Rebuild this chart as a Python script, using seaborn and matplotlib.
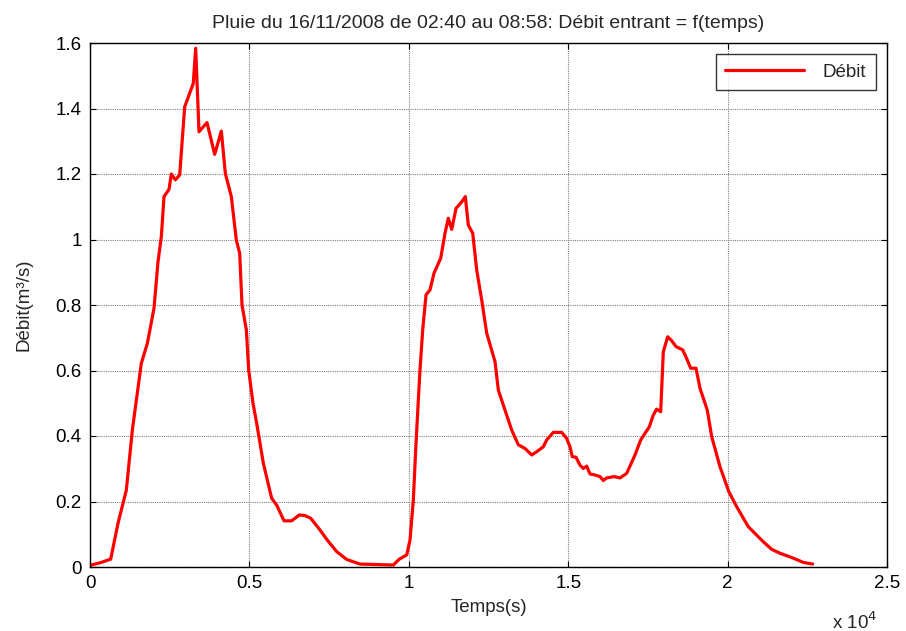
import matplotlib
matplotlib.use("Agg")
import matplotlib.pyplot as plt
import seaborn as sns
import pandas as pd

temps = [0, 355, 649, 878, 1140, 1328, 1610, 1799, 2008, 2133, 2238, 2321, 2478, 2551, 2677, 2813,
         2970, 3240, 3315, 3419, 3670, 3911, 4120, 4245, 4433, 4590, 4695, 4768, 4904, 4978, 5113,
         5228, 5437, 5698, 5855, 6086, 6326, 6566, 6744, 6922, 7215, 7444, 7738, 8052, 8469, 9514,
         9702, 9934, 10038, 10142, 10216, 10299, 10351, 10436, 10540, 10665, 10790, 11001, 11136,
         11240, 11346, 11481, 11659, 11773, 11867, 12005, 12130, 12287, 12444, 12704, 12809, 13018,
         13228, 13437, 13645, 13855, 14012, 14219, 14325, 14533, 14796, 14951, 15056, 15128, 15245,
         15370, 15474, 15580, 15684, 15841, 15998, 16102, 16206, 16437, 16625, 16835, 17096, 17274,
         17544, 17670, 17774, 17901, 17983, 18121, 18246, 18381, 18590, 18715, 18841, 19009, 19134,
         19363, 19501, 19762, 20038, 20285, 20650, 21120, 21382, 21643, 22061, 22375, 22669]
debit = [0.005, 0.014, 0.024, 0.133, 0.235, 0.418, 0.622, 0.683, 0.790, 0.932, 1.009, 1.131, 1.153,
         1.200, 1.182, 1.197, 1.405, 1.477, 1.584, 1.329, 1.357, 1.260, 1.331, 1.202, 1.131, 0.998,
         0.958, 0.800, 0.724, 0.601, 0.500, 0.439, 0.317, 0.210, 0.189, 0.141, 0.141, 0.159, 0.157,
         0.149, 0.113, 0.082, 0.047, 0.023, 0.009, 0.006, 0.024, 0.037, 0.082, 0.205, 0.357, 0.510,
         0.601, 0.724, 0.831, 0.846, 0.897, 0.943, 1.019, 1.065, 1.031, 1.095, 1.115, 1.131, 1.044,
         1.019, 0.907, 0.815, 0.714, 0.627, 0.540, 0.479, 0.418, 0.373, 0.362, 0.342, 0.352, 0.367,
         0.388, 0.411, 0.411, 0.393, 0.367, 0.337, 0.335, 0.311, 0.301, 0.308, 0.284, 0.281, 0.276,
         0.264, 0.272, 0.276, 0.272, 0.286, 0.342, 0.388, 0.428, 0.464, 0.482, 0.474, 0.657, 0.703,
         0.691, 0.673, 0.663, 0.637, 0.607, 0.607, 0.546, 0.479, 0.398, 0.306, 0.230, 0.184, 0.123,
         0.077, 0.054, 0.042, 0.027, 0.014, 0.009]

xticks = [0, 5000, 10000, 15000, 20000, 25000]
xticklabels = ["0", "0.5", "1", "1.5", "2", "2.5"]
yticks = [0, 0.2, 0.4, 0.6, 0.8, 1.0, 1.2, 1.4, 1.6]
yticklabels = ["0", "0.2", "0.4", "0.6", "0.8", "1", "1.2", "1.4", "1.6"]

title = "Pluie du 16/11/2008 de 02:40 au 08:58: Débit entrant = f(temps)"

sns.set_style("white")
plt.rcParams['font.family'] = ['Liberation Sans', 'DejaVu Sans']

df = pd.DataFrame({"Temps": temps, "Débit": debit})

fig = plt.figure(figsize=(9.06, 6.31), dpi=100)
ax = fig.add_axes([90/906, 64/631, 797/906, 524/631])
sns.lineplot(data=df, x="Temps", y="Débit", ax=ax, color="#ff0000", linewidth=2.3,
             label="Débit", sort=False)

ax.set_xlim(0, 25000)
ax.set_ylim(0, 1.6)
ax.set_xticks(xticks)
ax.set_xticklabels(xticklabels)
ax.set_yticks(yticks)
ax.set_yticklabels(yticklabels)
ax.grid(True, color="#808080", linestyle=(0, (1, 1)), linewidth=0.8)
ax.tick_params(direction="in", length=4, labelsize=13.5, colors="black", top=True, right=True,
               bottom=True, left=True)
ax.tick_params(axis="x", pad=6)
ax.tick_params(axis="y", pad=6)
for s in ax.spines.values():
    s.set_color("black")
    s.set_linewidth(1.0)
ax.set_title(title, fontsize=14, pad=11)
ax.set_xlabel("Temps(s)", fontsize=13.5)
ax.set_ylabel("Débit(m³/s)", fontsize=13.5)
ax.xaxis.set_label_coords(0.5, (567 - 599) / 524)
ax.yaxis.set_label_coords((32 - 90) / 797, 0.5)
fig.text(832/906, 1 - 622/631, "x 10$^4$", fontsize=13.5, ha="left", va="center")

leg = ax.legend(loc="upper right", fontsize=13.5, frameon=True, fancybox=False,
                edgecolor="black", handlelength=4.2, borderaxespad=0.6, borderpad=0.5,
                handletextpad=1.0)
leg.get_frame().set_linewidth(1.0)

fig.savefig("out.png", dpi=100, facecolor="white")
